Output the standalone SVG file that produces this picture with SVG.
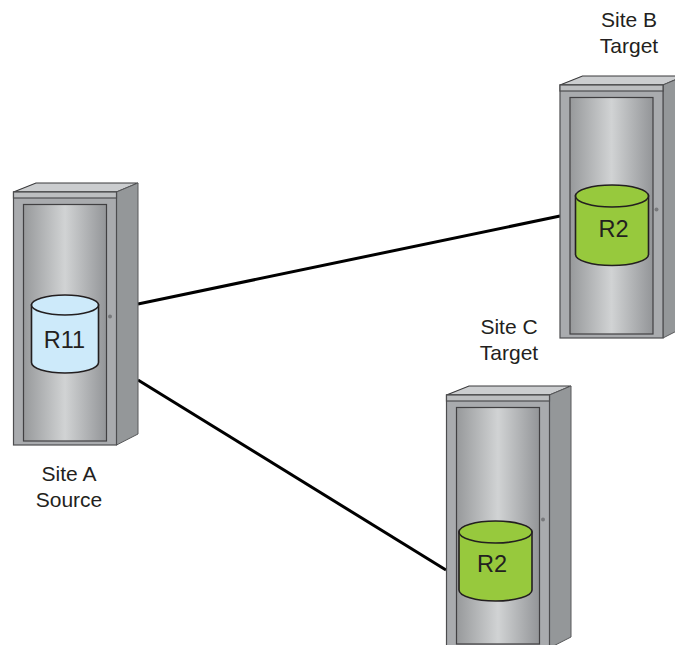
<svg xmlns="http://www.w3.org/2000/svg" width="675" height="645" viewBox="0 0 675 645">
<style>
text{font-family:"Liberation Sans",Arial,sans-serif;font-size:21px;fill:#231f20;text-anchor:middle}
text.vol{font-size:23.500px}
.conn{stroke:#000;stroke-width:3;fill:none}
.cyl{stroke:#231f20;stroke-width:1.600}
.blue{fill:#cdeafa}
.green{fill:#97c93d}
</style>
<defs>
<linearGradient id="metal" x1="0" x2="1" y1="0" y2="0">
<stop offset="0" stop-color="#97999b"/><stop offset="0.5" stop-color="#d1d3d4"/><stop offset="1" stop-color="#939598"/>
</linearGradient>
<g id="cabinet">
<path d="M13.500 192L36 183H138L116.500 192Z" fill="#cbcdcf" stroke="#3a3a3c" stroke-width="1.200"/>
<path d="M116.500 192L138 183V434L116.500 445Z" fill="#949799" stroke="#58595b" stroke-width="1"/>
<rect x="13.500" y="192" width="103" height="253" fill="#a9abae" stroke="#4d4d4f" stroke-width="1.200"/>
<rect x="13.500" y="192" width="103" height="6" fill="#bcbec0" stroke="#4d4d4f" stroke-width="1.200"/>
<rect x="23.500" y="204.500" width="83" height="236.500" fill="url(#metal)" stroke="#414042" stroke-width="1.200"/>
<circle cx="110" cy="316.500" r="2" fill="#77787b"/>
</g>
</defs>
<g id="connectors">
<line class="conn" x1="138" y1="304" x2="560" y2="216"/>
<line class="conn" x1="138" y1="380" x2="446" y2="570"/>
</g>
<g id="site-a">
<use href="#cabinet"/>
<path class="cyl blue" d="M31.500 305V362.500C31.500 368.500 46.500 373 65 373S98.500 368.500 98.500 362.500V305Z"/>
<ellipse class="cyl blue" cx="65" cy="305" rx="33.500" ry="10"/>
<text class="vol" x="64.500" y="348">R11</text>
<text x="69" y="481">Site A</text>
<text x="69" y="507">Source</text>
</g>
<g id="site-b">
<use href="#cabinet" x="546.500" y="-107"/>
<path class="cyl green" d="M575.500 196V254.500C575.500 260.500 592 265.500 612 265.500S648.500 260.500 648.500 254.500V196Z"/>
<ellipse class="cyl green" cx="612" cy="196" rx="36.500" ry="11"/>
<text class="vol" x="613.500" y="237">R2</text>
<text x="629" y="27">Site B</text>
<text x="629" y="53">Target</text>
</g>
<g id="site-c">
<use href="#cabinet" x="433" y="203"/>
<path class="cyl green" d="M459 532V590C459 596 475.500 601 495.500 601S532 596 532 590V532Z"/>
<ellipse class="cyl green" cx="495.500" cy="532" rx="36.500" ry="11"/>
<text class="vol" x="492" y="572">R2</text>
<text x="509" y="334">Site C</text>
<text x="509" y="360">Target</text>
</g>
</svg>
